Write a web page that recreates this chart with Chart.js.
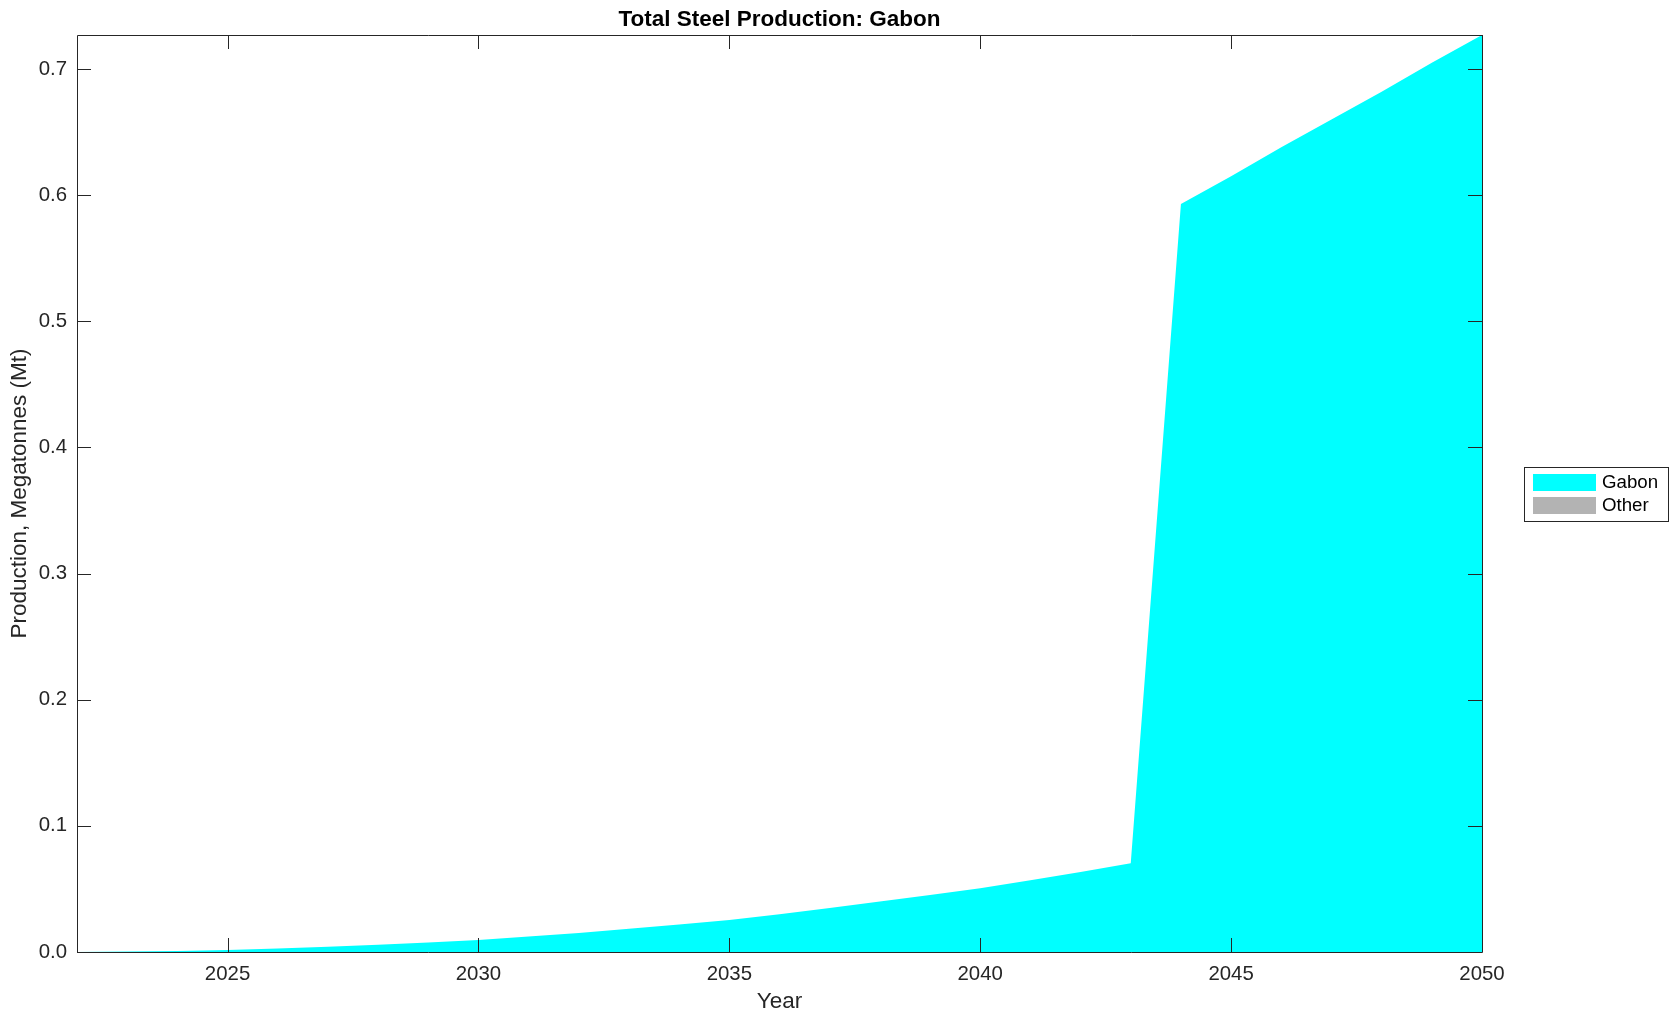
<!DOCTYPE html>
<html>
<head>
<meta charset="utf-8">
<script src="https://cdn.jsdelivr.net/npm/chart.js@4.4.1/dist/chart.umd.min.js"></script>
<style>
  html, body { margin: 0; padding: 0; background: #ffffff; }
  canvas { display: block; }
</style>
</head>
<body>
<canvas id="c" width="1678" height="1021"></canvas>
<script>
// ---- Data ----
const years = [2022, 2023, 2024, 2025, 2026, 2027, 2028, 2029, 2030, 2031, 2032, 2033, 2034, 2035,
               2036, 2037, 2038, 2039, 2040, 2041, 2042, 2043, 2044, 2045, 2046, 2047, 2048, 2049, 2050];
const gabon = [0.0000, 0.0003, 0.0008, 0.0016, 0.0028, 0.0042, 0.0058, 0.0076, 0.0095, 0.0122,
               0.0150, 0.0184, 0.0218, 0.0254, 0.0300, 0.0348, 0.0400, 0.0452, 0.0505, 0.0568,
               0.0635, 0.0703, 0.593, 0.615, 0.638, 0.660, 0.682, 0.705, 0.727];
const other = [0, 0, 0, 0, 0, 0, 0, 0, 0, 0, 0, 0, 0, 0, 0, 0, 0, 0, 0, 0, 0, 0, 0, 0, 0, 0, 0, 0, 0];
const seriesNames = ['Gabon', 'Other'];
const xTickValues = [2025, 2030, 2035, 2040, 2045, 2050];
const yTickValues = [0, 0.1, 0.2, 0.3, 0.4, 0.5, 0.6, 0.7];
const titleText = 'Total Steel Production: Gabon';
const xLabelText = 'Year';
const yLabelText = 'Production, Megatonnes (Mt)';

const FONT = '"Liberation Sans", Arial, Helvetica, sans-serif';
const AXC = '#262626';
const TICKLEN = 14;

const toPts = (xs, ys) => xs.map((x, i) => ({ x: x, y: ys[i] }));

const framePlugin = {
  id: 'frame',
  afterDraw(chart) {
    const ctx = chart.ctx;
    const a = chart.chartArea;
    const xs = chart.scales.x, ys = chart.scales.y;
    ctx.save();
    ctx.strokeStyle = AXC;
    ctx.lineWidth = 1;
    // box
    ctx.beginPath();
    ctx.rect(Math.round(a.left) + 0.5, Math.round(a.top) + 0.5,
             Math.round(a.right) - Math.round(a.left), Math.round(a.bottom) - Math.round(a.top));
    ctx.stroke();
    // inner ticks
    ctx.beginPath();
    xTickValues.forEach(v => {
      const px = Math.round(xs.getPixelForValue(v)) + 0.5;
      ctx.moveTo(px, a.bottom); ctx.lineTo(px, a.bottom - TICKLEN);
      ctx.moveTo(px, a.top); ctx.lineTo(px, a.top + TICKLEN);
    });
    yTickValues.forEach(v => {
      const py = Math.round(ys.getPixelForValue(v)) + 0.5;
      ctx.moveTo(a.left, py); ctx.lineTo(a.left + TICKLEN, py);
      ctx.moveTo(a.right, py); ctx.lineTo(a.right - TICKLEN, py);
    });
    ctx.stroke();

    // title
    const cx = (a.left + a.right) / 2;
    ctx.fillStyle = '#000000';
    ctx.textAlign = 'center';
    ctx.textBaseline = 'middle';
    ctx.font = 'bold 22.5px ' + FONT;
    ctx.fillText(titleText, cx, 20);

    // axis labels
    ctx.fillStyle = AXC;
    ctx.font = '22.5px ' + FONT;
    ctx.fillText(xLabelText, cx, 1002);
    ctx.save();
    ctx.translate(20, (a.top + a.bottom) / 2);
    ctx.rotate(-Math.PI / 2);
    ctx.fillText(yLabelText, 0, 0);
    ctx.restore();

    // legend
    const lx = 1524, ly = 467, lw = 144, lh = 54;
    ctx.fillStyle = '#ffffff';
    ctx.fillRect(lx, ly, lw, lh);
    ctx.strokeStyle = AXC;
    ctx.strokeRect(lx + 0.5, ly + 0.5, lw, lh);
    chart.data.datasets.forEach((ds, i) => {
      const sy = 474 + i * 23;
      ctx.fillStyle = ds.backgroundColor;
      ctx.fillRect(1533, sy, 63, 17);
      ctx.fillStyle = '#000000';
      ctx.textAlign = 'left';
      ctx.textBaseline = 'middle';
      ctx.font = '18.7px ' + FONT;
      ctx.fillText(ds.label, 1602, sy + 9);
    });
    ctx.restore();
  }
};

new Chart(document.getElementById('c'), {
  type: 'line',
  data: {
    datasets: [
      {
        label: seriesNames[0],
        data: toPts(years, gabon),
        backgroundColor: '#00ffff',
        borderColor: '#00ffff',
        borderWidth: 0,
        pointRadius: 0,
        tension: 0,
        fill: 'origin'
      },
      {
        label: seriesNames[1],
        data: toPts(years, other),
        backgroundColor: '#b3b3b3',
        borderColor: '#b3b3b3',
        borderWidth: 0,
        pointRadius: 0,
        tension: 0,
        fill: '-1'
      }
    ]
  },
  options: {
    responsive: false,
    animation: false,
    devicePixelRatio: 1,
    layout: { padding: { left: 0, top: 35, right: 196, bottom: 0 } },
    plugins: {
      legend: { display: false },
      title: { display: false },
      tooltip: { enabled: false }
    },
    scales: {
      x: {
        type: 'linear',
        min: 2022,
        max: 2050,
        grid: { display: false, drawTicks: false },
        border: { display: false },
        afterBuildTicks: s => { s.ticks = xTickValues.map(v => ({ value: v })); },
        afterFit: s => { s.height = 69; },
        ticks: {
          color: AXC,
          font: { family: FONT, size: 20.4 },
          padding: 10,
          maxRotation: 0,
          autoSkip: false,
          callback: v => String(v)
        }
      },
      y: {
        stacked: true,
        min: 0,
        max: 0.727,
        grid: { display: false, drawTicks: false },
        border: { display: false },
        afterBuildTicks: s => { s.ticks = yTickValues.map(v => ({ value: v })); },
        afterFit: s => { s.width = 77; },
        ticks: {
          color: AXC,
          font: { family: FONT, size: 20.4 },
          padding: 10,
          autoSkip: false,
          callback: v => Number(v).toFixed(1)
        }
      }
    }
  },
  plugins: [framePlugin]
});
</script>
</body>
</html>
